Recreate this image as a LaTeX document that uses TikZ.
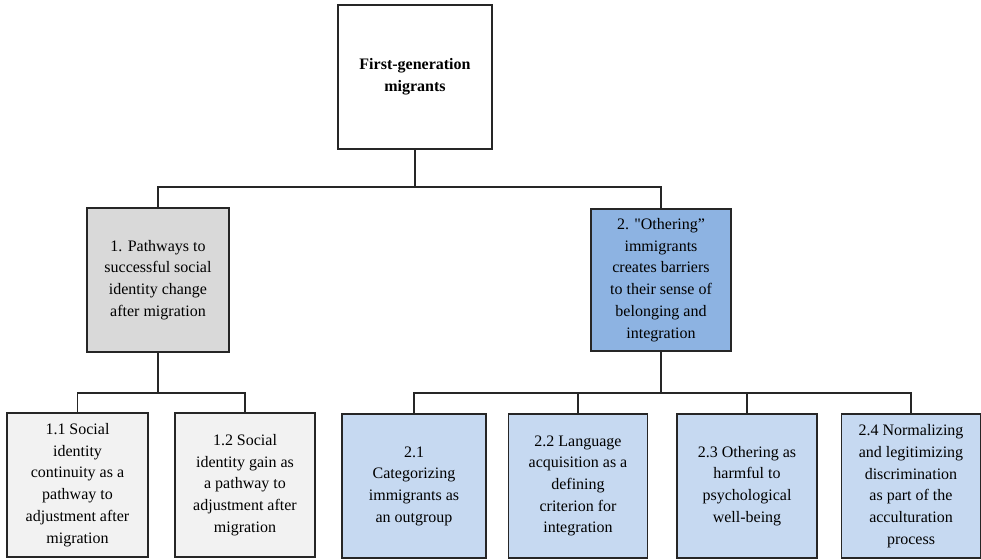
\documentclass[tikz,border=0pt]{standalone}
\usepackage{fontspec}
\setmainfont{Liberation Serif}
\definecolor{gbox}{HTML}{D9D9D9}
\definecolor{lgbox}{HTML}{F2F2F2}
\definecolor{bbox}{HTML}{8DB3E2}
\definecolor{lbbox}{HTML}{C6D9F1}
\begin{document}
\begin{tikzpicture}[x=1pt,y=-1pt,
  box/.style={draw=black!85,line width=1.3pt,rectangle,align=center,inner sep=0pt,
    minimum height=144pt,font=\fontsize{16}{21.7}\selectfont},
  link/.style={draw=black!85,line width=1.3pt}]
\useasboundingbox (0,0) rectangle (981,559);
\node[box,minimum width=154pt,fill=white,font=\fontsize{16}{21.7}\selectfont\bfseries] (top) at (415,77) {First-generation\\migrants};
\node[box,minimum width=142pt,fill=gbox] (b1) at (158,280) {1. Pathways to\\successful social\\identity change\\after migration};
\node[box,minimum width=140pt,minimum height=142pt,fill=bbox] (b2) at (661,280) {2. \textquotedbl Othering''\\immigrants\\creates barriers\\to their sense of\\belonging and\\integration};
\node[box,minimum width=141pt,fill=lgbox] (b11) at (77.5,485) {1.1 Social\\identity\\continuity as a\\pathway to\\adjustment after\\migration};
\node[box,minimum width=140pt,fill=lgbox] (b12) at (245,485) {1.2 Social\\identity gain as\\a pathway to\\adjustment after\\migration};
\node[box,minimum width=144pt,fill=lbbox] (b21) at (414,486) {2.1\\Categorizing\\immigrants as\\an outgroup};
\node[box,minimum width=139pt,fill=lbbox] (b22) at (578,486) {2.2 Language\\acquisition as a\\defining\\criterion for\\integration};
\node[box,minimum width=140pt,fill=lbbox] (b23) at (747,486) {2.3 Othering as\\harmful to\\psychological\\well-being};
\node[box,minimum width=139pt,fill=lbbox] (b24) at (911,486) {2.4 Normalizing\\and legitimizing\\discrimination\\as part of the\\acculturation\\process};
\coordinate (j0) at (415,187);
\coordinate (j1) at (158,393);
\coordinate (j2) at (661,393);
\draw[link] (top.south) -- (j0);
\draw[link] (b1.north) |- (j0) -| (b2.north);
\draw[link] (b1.south) -- (j1);
\draw[link] (b11.north) |- (j1) -| (b12.north);
\draw[link] (b2.south) -- (j2);
\draw[link] (b21.north) |- (j2) -| (b24.north);
\draw[link] (b22.north) -- (b22.north |- j2);
\draw[link] (b23.north) -- (b23.north |- j2);
\end{tikzpicture}
\end{document}
